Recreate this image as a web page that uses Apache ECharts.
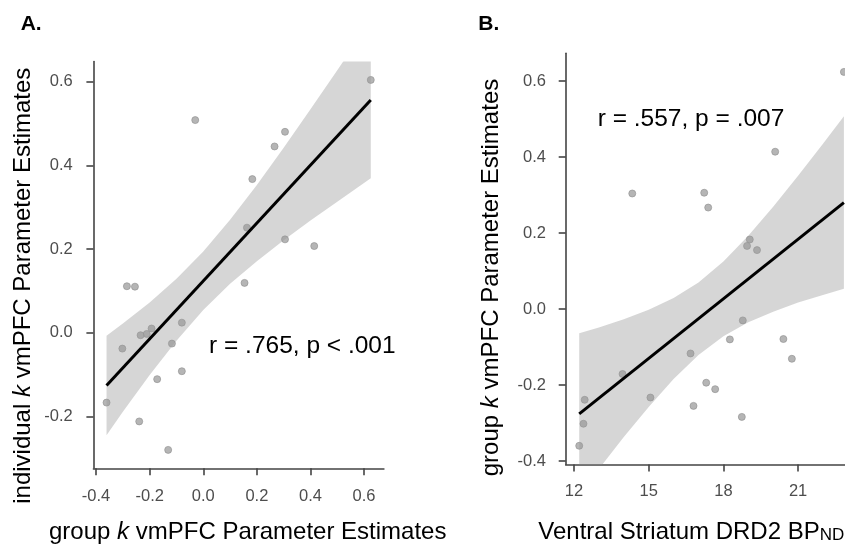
<!DOCTYPE html>
<html><head><meta charset="utf-8">
<script src="https://cdn.jsdelivr.net/npm/echarts@6/dist/echarts.min.js"></script>
<style>html,body{margin:0;padding:0;background:#fff}#c{width:845px;height:546px}</style>
</head><body><div id="c"></div><script>
const FONT = "'Liberation Sans', Arial, Helvetica, sans-serif";

// ---------- Panel A ----------
const groupKA = [0.625,-0.030,0.305,0.266,0.183,0.163,0.305,0.414,0.154,-0.285,-0.255,-0.080,-0.193,-0.211,-0.234,-0.117,-0.302,-0.080,-0.172,-0.361,-0.239,-0.131];
const indivKA = [0.604,0.508,0.480,0.445,0.367,0.251,0.223,0.207,0.119,0.111,0.110,0.024,0.010,-0.003,-0.006,-0.026,-0.038,-0.092,-0.111,-0.167,-0.212,-0.280];
const fitAx = [-0.361, 0.625];
const fitAy = [-0.126, 0.556];
const bandAx = [-0.361,-0.3,-0.2,-0.1,0,0.1,0.2,0.3,0.4,0.5,0.625];
const bandAhi = [-0.007,0.022,0.072,0.129,0.194,0.270,0.353,0.442,0.534,0.627,0.745];
const bandAlo = [-0.245,-0.189,-0.101,-0.019,0.054,0.117,0.171,0.221,0.268,0.313,0.369];
const ticksAx = [-0.4,-0.2,0,0.2,0.4,0.6];
const ticksAy = [-0.2,0,0.2,0.4,0.6];

// ---------- Panel B ----------
const drd2B = [22.84,20.08,14.34,17.23,17.39,19.06,18.95,19.35,18.78,18.26,20.41,20.75,16.68,13.95,17.31,17.67,15.07,12.43,16.80,18.74,12.38,12.21];
const groupKB = [0.624,0.414,0.304,0.306,0.267,0.183,0.166,0.155,-0.030,-0.080,-0.079,-0.131,-0.117,-0.171,-0.194,-0.211,-0.233,-0.239,-0.255,-0.284,-0.302,-0.360];
const fitBx = [12.21, 22.84];
const fitBy = [-0.276, 0.280];
const bandBx = [12.21,13,14,15,16,17,18,19,20,21,22,22.84];
const bandBhi = [-0.064,-0.049,-0.027,-0.002,0.029,0.070,0.125,0.193,0.269,0.351,0.435,0.507];
const bandBlo = [-0.488,-0.421,-0.337,-0.258,-0.184,-0.121,-0.072,-0.035,-0.007,0.017,0.037,0.053];
const ticksBx = [12,15,18,21];
const ticksBy = [-0.4,-0.2,0,0.2,0.4,0.6];

const annotA = 'r = .765, p < .001';
const annotB = 'r = .557, p = .007';

const chart = echarts.init(document.getElementById('c'), null, {renderer:'canvas'});

function valAxis(gi, min, max, ticks, fmt, margin) {
  return {
    type:'value', gridIndex:gi, min:min, max:max,
    axisLine:{show:true, onZero:false, lineStyle:{color:'#444', width:1.6}},
    axisTick:{show:true, inside:false, length:7, customValues:ticks, lineStyle:{color:'#444', width:1.6}},
    axisLabel:{show:true, customValues:ticks, formatter:fmt, color:'#4d4d4d', fontSize:16.5, fontFamily:FONT, margin:margin},
    splitLine:{show:false}
  };
}
const f1 = v => Number(v).toFixed(1);
const f0 = v => String(Math.round(v));

function bandSeries(gi, xs, lo, hi) {
  return {
    type:'custom', xAxisIndex:gi, yAxisIndex:gi, clip:true, silent:true, z:3,
    data: xs.map((x,i)=>[x, lo[i], hi[i]]),
    encode:{x:0, y:[1,2]},
    renderItem:function(params, api){
      if (params.dataIndexInside !== 0) return null;
      const n = params.dataInsideLength;
      const pts = [];
      for (let i=0;i<n;i++) pts.push(api.coord([api.value(0,i), api.value(2,i)]));
      for (let i=n-1;i>=0;i--) pts.push(api.coord([api.value(0,i), api.value(1,i)]));
      return {type:'polygon', shape:{points:pts}, style:{fill:'rgba(153,153,153,0.4)'}};
    }
  };
}
function pointSeries(gi, xs, ys) {
  return {type:'scatter', xAxisIndex:gi, yAxisIndex:gi, z:2, symbolSize:7,
    itemStyle:{color:'#a3a3a3', borderColor:'#8f8f8f', borderWidth:0.8},
    data: xs.map((x,i)=>[x, ys[i]])};
}
function fitSeries(gi, xs, ys) {
  return {type:'line', xAxisIndex:gi, yAxisIndex:gi, z:4, symbol:'none', clip:true,
    lineStyle:{color:'#000', width:3},
    data: xs.map((x,i)=>[x, ys[i]])};
}

const titleRich = {
  n:{fontSize:24, lineHeight:24, fontFamily:FONT, fill:'#000'},
  i:{fontSize:24, lineHeight:24, fontFamily:FONT, fontStyle:'italic', fill:'#000'},
  sub:{fontSize:17, lineHeight:6, fontFamily:FONT, fill:'#000', verticalAlign:'bottom'}
};

const option = {
  animation:false,
  backgroundColor:'#fff',
  grid:[
    {left:93.4, top:61.5, width:290.5, height:406.8, outerBoundsMode:'none', containLabel:false},
    {left:565.7, top:53.3, width:291.4, height:411.1, outerBoundsMode:'none', containLabel:false}
  ],
  xAxis:[
    valAxis(0, -0.41, 0.674, ticksAx, f1, 19.6),
    valAxis(1, 11.667, 23.37, ticksBx, f0, 18.5)
  ],
  yAxis:[
    valAxis(0, -0.324, 0.648, ticksAy, f1, 20.7),
    valAxis(1, -0.409, 0.673, ticksBy, f1, 19.7)
  ],
  series:[
    pointSeries(0, groupKA, indivKA),
    bandSeries(0, bandAx, bandAlo, bandAhi),
    fitSeries(0, fitAx, fitAy),
    pointSeries(1, drd2B, groupKB),
    bandSeries(1, bandBx, bandBlo, bandBhi),
    fitSeries(1, fitBx, fitBy)
  ],
  graphic:[
    {type:'text', x:20.7, y:23.8, style:{text:'A.', font:'bold 21px '+FONT, fill:'#000', align:'left', verticalAlign:'middle'}},
    {type:'text', x:478.3, y:23.8, style:{text:'B.', font:'bold 21px '+FONT, fill:'#000', align:'left', verticalAlign:'middle'}},
    {type:'text', x:209, y:346.7, z:10, style:{text:annotA, font:'24.5px '+FONT, fill:'#000', align:'left', verticalAlign:'middle'}},
    {type:'text', x:597.7, y:119.4, z:10, style:{text:annotB, font:'24.5px '+FONT, fill:'#000', align:'left', verticalAlign:'middle'}},
    {type:'text', x:49, y:532.2, style:{text:'{n|group }{i|k}{n| vmPFC Parameter Estimates}', rich:titleRich, align:'left', verticalAlign:'middle'}},
    {type:'text', x:538.3, y:532.2, style:{text:'{n|Ventral Striatum DRD2 BP}{sub|ND}', rich:titleRich, align:'left', verticalAlign:'middle'}},
    {type:'text', x:23.4, y:285.7, rotation:Math.PI/2, style:{text:'{n|individual }{i|k}{n| vmPFC Parameter Estimates}', rich:titleRich, align:'center', verticalAlign:'middle'}},
    {type:'text', x:491, y:277.5, rotation:Math.PI/2, style:{text:'{n|group }{i|k}{n| vmPFC Parameter Estimates}', rich:titleRich, align:'center', verticalAlign:'middle'}}
  ]
};
chart.setOption(option);
</script></body></html>
